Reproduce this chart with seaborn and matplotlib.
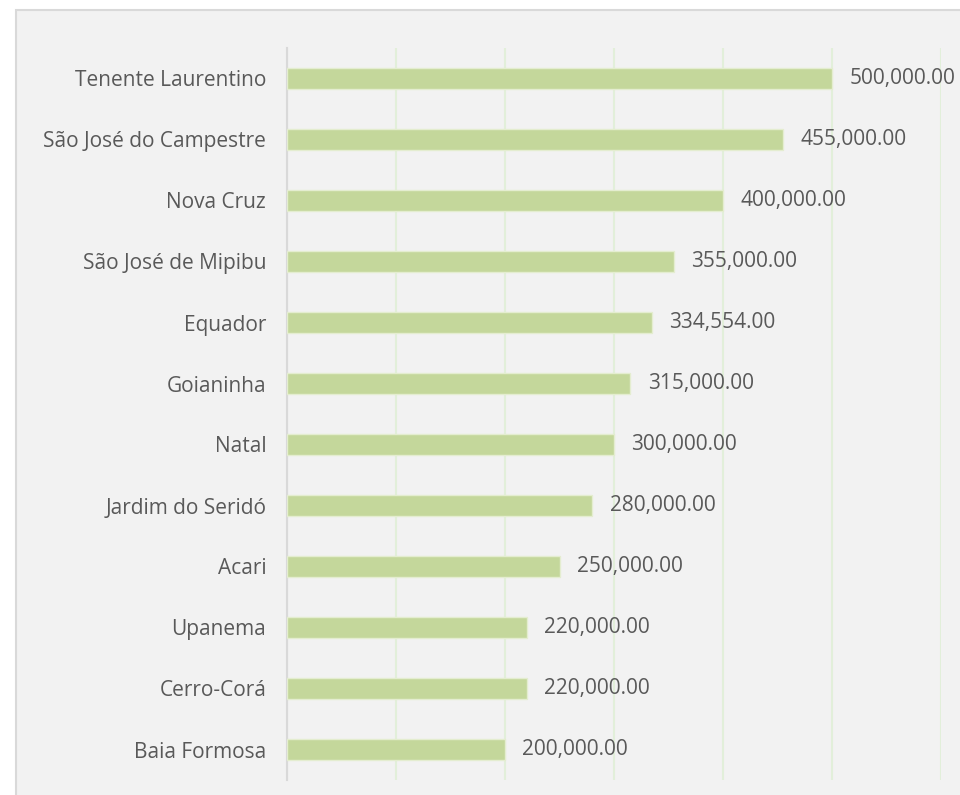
import matplotlib
matplotlib.use("Agg")
import matplotlib.pyplot as plt
import matplotlib.patches as mpatches
import seaborn as sns
import pandas as pd

categories = ["Tenente Laurentino", "São José do Campestre", "Nova Cruz", "São José de Mipibu",
              "Equador", "Goianinha", "Natal", "Jardim do Seridó", "Acari", "Upanema",
              "Cerro-Corá", "Baia Formosa"]
values = [500000, 455000, 400000, 355000, 334554, 315000, 300000, 280000, 250000, 220000,
          220000, 200000]

df = pd.DataFrame({"cat": categories, "val": values})

sns.set_theme(style="white")
plt.rcParams["font.family"] = ["Open Sans", "DejaVu Sans"]

W, H = 960, 795
fig = plt.figure(figsize=(W / 100, H / 100), dpi=100, facecolor="white")
fig.patches.append(mpatches.Rectangle((16 / W, -0.01), 1.0, 1 - 10 / H + 0.01,
                                      transform=fig.transFigure, facecolor="#f2f2f2",
                                      edgecolor="#d9d9d9", linewidth=1.5, zorder=-10))

ax = fig.add_axes([287 / W, 1 - 780 / H, (941 - 287) / W, (780 - 48) / H])
ax.set_facecolor("none")

sns.barplot(data=df, y="cat", x="val", orient="h", color="#c4d79b", width=0.33,
            edgecolor="#e4edd0", linewidth=1.0, ax=ax, zorder=3, saturation=1)

ax.set_xlim(0, 600000)
ax.set_ylim(11.5, -0.5)
ax.set_xticks(range(0, 600001, 100000))
ax.xaxis.grid(True, color="#e2efda", linewidth=1.5, zorder=0)
ax.set_axisbelow(True)
ax.set_xticklabels([])
ax.tick_params(axis="x", length=0)
ax.tick_params(axis="y", length=0, pad=15, labelsize=15, labelcolor="#595959")
ax.set_xlabel("")
ax.set_ylabel("")
for s in ["top", "right", "bottom"]:
    ax.spines[s].set_visible(False)
ax.spines["left"].set_color("#d9d9d9")
ax.spines["left"].set_linewidth(1.5)

for i, v in enumerate(values):
    ax.annotate(f"{v:,.2f}", xy=(v, i), xytext=(12.5, 0), textcoords="offset points",
                ha="left", va="center", fontsize=15, color="#595959",
                annotation_clip=False)

fig.savefig("out.png", dpi=100, facecolor="white")
